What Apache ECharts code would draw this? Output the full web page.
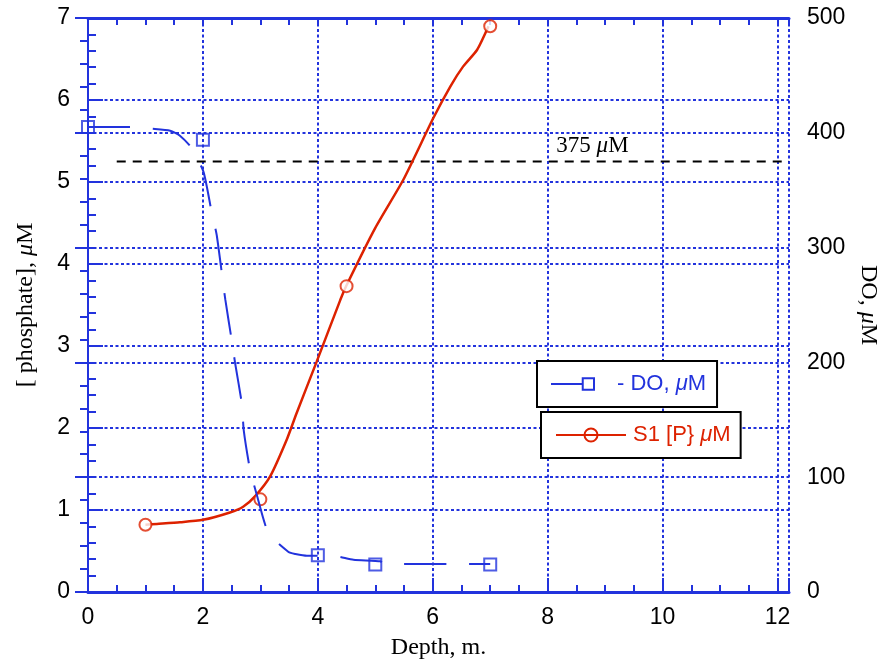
<!DOCTYPE html>
<html>
<head>
<meta charset="utf-8">
<script src="https://cdn.jsdelivr.net/npm/echarts@6/dist/echarts.min.js"></script>
<style>
    html, body {margin: 0; padding: 0; background: #fff;}
    #depth_chart {width: 881px; height: 662px;}
</style>
</head>
<body>
<div id="depth_chart"></div>
<script>
//***************数据*************************
// S1 [P} curve (left axis, µM)
var p_curve_x = [1.0, 1.2, 1.6, 2.0, 2.47, 2.7, 2.91, 3.17, 3.46, 3.63, 3.98, 4.39, 4.5, 5.0, 5.49, 6.01, 6.31, 6.53, 6.77, 6.97];
var p_curve_y = [0.82, 0.83, 0.85, 0.88, 0.97, 1.04, 1.17, 1.41, 1.86, 2.18, 2.81, 3.56, 3.74, 4.44, 5.03, 5.78, 6.17, 6.41, 6.61, 6.90];
var p_point_x = [1, 3, 4.5, 7];
var p_point_y = [0.82, 1.13, 3.73, 6.9];

// DO curve (right axis, µM)
var do_curve_x = [0, 0.73, 1.12, 1.43, 1.6, 1.8, 2.01, 2.15, 2.24, 2.39, 2.5, 2.56, 2.68, 2.71, 2.82, 2.93, 3.14, 3.49, 3.61, 3.81, 4.24, 4.62, 5.09, 5.14, 5.35, 5.72, 6.48, 7];
var do_curve_y = [405, 405, 403.5, 401.8, 397.5, 387, 366, 331.5, 311, 254.6, 219.7, 199.5, 163, 141, 106.5, 86, 51.4, 34.8, 33.1, 31.6, 31.6, 28.1, 26.7, 24.4, 24.4, 24.4, 24.4, 24.4];
var do_point_x = [0, 2, 4, 5, 7];
var do_point_y = [405, 394, 32, 24, 24];

// 375 µM level
var limit_x = [0.5, 12.2];
var limit_y = [375, 375];
var limit_label_x = 8.78;

var x_ticks = [0, 2, 4, 6, 8, 10, 12];
var left_ticks = [0, 1, 2, 3, 4, 5, 6, 7];
var right_ticks = [0, 100, 200, 300, 400, 500];

var DO_NAME = '- DO, μM';
var P_NAME = 'S1 [P} μM';

//***************样式*************************
var BLUE = '#2233dd';
var RED = '#dd2200';
var SANS = '"Liberation Sans", Arial, sans-serif';
var SERIF = '"Liberation Serif", "Times New Roman", serif';
var DOTS = {color: BLUE, width: 2, type: [3, 2.5]};
var NAME_SIZE = 24;

function zip(xs, ys) {
    return xs.map(function (x, i) { return [x, ys[i]]; });
}
function italic_mu(s) {
    return s.replace('μ', '{i|μ}');
}

//***************初始化图表***********************************
var depth_chart = echarts.init(document.getElementById('depth_chart'));

depth_chart.setOption({
    animation: false,
    backgroundColor: '#fff',
    grid: {left: 88, right: 92, top: 18, bottom: 70, outerBoundsMode: 'none'},
    legend: [
        {
            data: [{name: DO_NAME, icon: 'path://M0,6.5L31,6.5M31,1L42,1L42,12L31,12Z'}],
            left: 537, top: 361,
            padding: [12, 11, 12, 13],
            itemWidth: 43, itemHeight: 13,
            backgroundColor: '#fff', borderColor: '#000', borderWidth: 2,
            selectedMode: false,
            itemStyle: {color: 'rgba(0,0,0,0)', borderColor: BLUE, borderWidth: 2},
            formatter: italic_mu,
            textStyle: {
                color: BLUE, fontSize: 22, fontFamily: SANS, lineHeight: 22, padding: [0, 0, 0, 18],
                rich: {i: {color: BLUE, fontSize: 22, fontFamily: SANS, fontStyle: 'italic', lineHeight: 22}}
            }
        },
        {
            data: [{name: P_NAME, icon: 'path://M0,7L70,7M41.5,7A6.5,6.5,0,1,1,28.5,7A6.5,6.5,0,1,1,41.5,7'}],
            left: 541, top: 412,
            padding: [12, 10, 12, 14],
            itemWidth: 70, itemHeight: 13,
            backgroundColor: '#fff', borderColor: '#000', borderWidth: 2,
            selectedMode: false,
            itemStyle: {color: 'rgba(0,0,0,0)', borderColor: RED, borderWidth: 2},
            formatter: italic_mu,
            textStyle: {
                color: RED, fontSize: 22, fontFamily: SANS, lineHeight: 22, padding: [0, 0, 0, 2],
                rich: {i: {color: RED, fontSize: 22, fontFamily: SANS, fontStyle: 'italic', lineHeight: 22}}
            }
        }
    ],
    xAxis: [
        {
            // main bottom axis: labels, long ticks, grid
            type: 'value', position: 'bottom', min: 0, max: 12.2, interval: 2,
            name: 'Depth, m.', nameLocation: 'middle', nameGap: 44,
            nameTextStyle: {color: '#000', fontSize: NAME_SIZE, fontFamily: SERIF},
            axisLine: {lineStyle: {color: BLUE, width: 3}},
            axisTick: {inside: true, length: 14, lineStyle: {color: BLUE, width: 2}},
            axisLabel: {
                color: '#000', fontSize: 23, fontFamily: SANS, margin: 14,
                formatter: function (v) { return x_ticks.indexOf(v) >= 0 ? String(v) : ''; }
            },
            splitLine: {show: true, lineStyle: DOTS}
        },
        {
            // short ticks every 0.5 on the bottom
            type: 'value', position: 'bottom', min: 0, max: 12.2, interval: 0.5,
            axisLine: {show: false},
            axisTick: {inside: true, length: 7, lineStyle: {color: BLUE, width: 2}},
            axisLabel: {show: false},
            splitLine: {show: false}
        },
        {
            // top frame
            type: 'value', position: 'top', min: 0, max: 12.2, interval: 0.5,
            axisLine: {lineStyle: {color: BLUE, width: 3}},
            axisTick: {inside: true, length: 7, lineStyle: {color: BLUE, width: 2}},
            axisLabel: {show: false},
            splitLine: {show: false}
        }
    ],
    yAxis: [
        {
            type: 'value', position: 'left', min: 0, max: 7, interval: 1,
            name: italic_mu('[ phosphate], μM'), nameLocation: 'middle', nameGap: 50, nameRotate: 90,
            nameTextStyle: {
                color: '#000', fontSize: NAME_SIZE, fontFamily: SERIF,
                rich: {i: {color: '#000', fontSize: NAME_SIZE, fontFamily: SERIF, fontStyle: 'italic'}}
            },
            axisLine: {lineStyle: {color: BLUE, width: 2}},
            axisTick: {inside: true, length: 15, lineStyle: {color: BLUE, width: 2}},
            minorTick: {show: true, splitNumber: 5, length: 8, lineStyle: {color: BLUE, width: 2}},
            axisLabel: {
                color: '#000', fontSize: 23, fontFamily: SANS, margin: 18,
                formatter: function (v) { return left_ticks.indexOf(v) >= 0 ? String(v) : ''; }
            },
            splitLine: {show: true, lineStyle: DOTS}
        },
        {
            type: 'value', position: 'right', min: 0, max: 500, interval: 100,
            name: italic_mu('DO, μM'), nameLocation: 'middle', nameGap: 65, nameRotate: -90,
            nameTextStyle: {
                color: '#000', fontSize: NAME_SIZE, fontFamily: SERIF,
                rich: {i: {color: '#000', fontSize: NAME_SIZE, fontFamily: SERIF, fontStyle: 'italic'}}
            },
            axisLine: {lineStyle: {color: BLUE, width: 2}},
            axisTick: {inside: true, length: 13, lineStyle: {color: BLUE, width: 2}},
            minorTick: {show: true, splitNumber: 5, length: 8, lineStyle: {color: BLUE, width: 2}},
            axisLabel: {
                color: '#000', fontSize: 23, fontFamily: SANS, margin: 18,
                formatter: function (v) { return right_ticks.indexOf(v) >= 0 ? String(v) : ''; }
            },
            splitLine: {show: true, lineStyle: DOTS}
        }
    ],
    series: [
        {
            name: 'limit',
            type: 'line', xAxisIndex: 0, yAxisIndex: 1,
            data: zip(limit_x, limit_y),
            symbol: 'none', z: 1,
            lineStyle: {color: '#000', width: 2, type: [9, 7]},
            markPoint: {
                symbol: 'circle', symbolSize: 0,
                data: [{coord: [limit_label_x, limit_y[0]]}],
                label: {
                    show: true, position: 'top', distance: 4,
                    formatter: italic_mu('375 μM'),
                    color: '#000', fontSize: 23, fontFamily: SERIF,
                    rich: {i: {color: '#000', fontSize: 23, fontFamily: SERIF, fontStyle: 'italic'}}
                }
            }
        },
        {
            name: P_NAME,
            type: 'line', xAxisIndex: 0, yAxisIndex: 0,
            data: zip(p_curve_x, p_curve_y),
            symbol: 'none', smooth: 0.2, z: 2,
            lineStyle: {color: RED, width: 2.5}
        },
        {
            name: P_NAME,
            type: 'scatter', xAxisIndex: 0, yAxisIndex: 0,
            data: zip(p_point_x, p_point_y),
            symbol: 'circle', symbolSize: 12, z: 3,
            itemStyle: {color: '#fff', borderColor: RED, borderWidth: 2}
        },
        {
            name: DO_NAME,
            type: 'line', xAxisIndex: 0, yAxisIndex: 1,
            data: zip(do_curve_x, do_curve_y),
            symbol: 'none', smooth: 0.2, z: 4,
            lineStyle: {color: BLUE, width: 2, type: [42, 23]}
        },
        {
            name: DO_NAME,
            type: 'scatter', xAxisIndex: 0, yAxisIndex: 1,
            data: zip(do_point_x, do_point_y),
            symbol: 'rect', symbolSize: 12, z: 5,
            itemStyle: {color: 'rgba(255,255,255,0)', borderColor: BLUE, borderWidth: 2}
        }
    ]
});
</script>
</body>
</html>
